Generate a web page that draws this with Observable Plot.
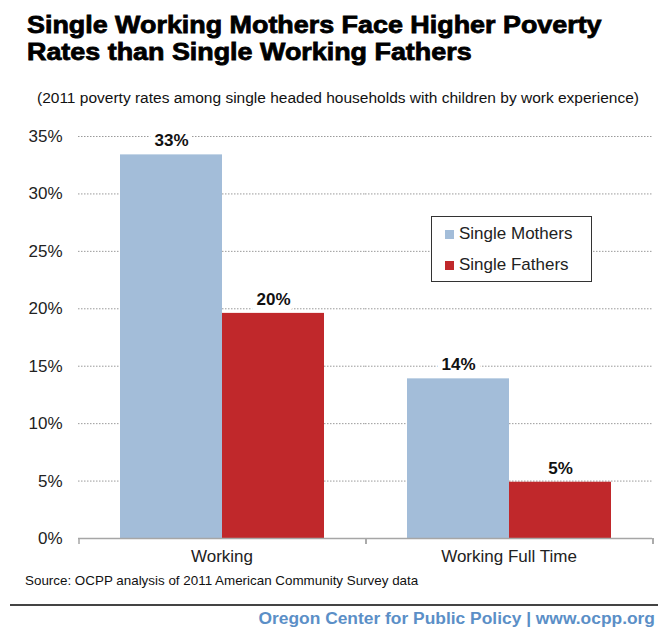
<!DOCTYPE html>
<html><head><meta charset="utf-8">
<script src="https://cdn.jsdelivr.net/npm/d3@7"></script>
<script src="https://cdn.jsdelivr.net/npm/@observablehq/plot@0.6"></script>
<style>
body{margin:0;background:#fff;width:658px;height:628px;position:relative;overflow:hidden;font-family:"Liberation Sans",Arial,sans-serif;}
#title{position:absolute;left:27px;top:11px;font-size:24px;font-weight:bold;line-height:27px;color:#000;transform:scaleX(1.12);transform-origin:0 0;-webkit-text-stroke:0.8px #000;white-space:nowrap;}
#subtitle{position:absolute;left:37px;top:89px;font-size:15.5px;color:#111;white-space:nowrap;}
#chart{position:absolute;left:0;top:118px;}
#legend{position:absolute;left:431px;top:216px;width:159px;height:64px;border:1.5px solid #333;background:#fff;font-size:17px;color:#222;}
#legend .item{position:absolute;left:13px;white-space:nowrap;}
#legend .sw{display:inline-block;width:9px;height:9px;margin-right:5px;}
#source{position:absolute;left:25px;top:573px;font-size:13.4px;color:#111;white-space:nowrap;}
#rule{position:absolute;left:10px;top:604px;width:648px;height:2px;background:#444;}
#footer{position:absolute;right:3px;top:610px;font-size:17.4px;line-height:17px;font-weight:bold;color:#5b8fc7;white-space:nowrap;}
</style></head>
<body>
<div id="title">Single Working Mothers Face Higher Poverty<br>Rates than Single Working Fathers</div>
<div id="subtitle">(2011 poverty rates among single headed households with children by work experience)</div>
<div id="chart"></div>
<div id="legend"></div>
<div id="source">Source: OCPP analysis of 2011 American Community Survey data</div>
<div id="rule"></div>
<div id="footer">Oregon Center for Public Policy | www.ocpp.org</div>
<script>
const categories = ["Working", "Working Full Time"];
const series = ["Single Mothers", "Single Fathers"];
const mothers = [33.4, 13.9];
const fathers = [19.6, 4.9];
const colors = ["#a3bdd9", "#c0282b"];
const yTicks = [0, 5, 10, 15, 20, 25, 30, 35];

const rows = [];
categories.forEach((c, i) => {
  rows.push({category: c, series: series[0], value: mothers[i]});
  rows.push({category: c, series: series[1], value: fathers[i]});
});

const boundaryTicks = (index, scales) => {
  const {fx, y} = scales;
  const bw = typeof fx.bandwidth === "function" ? fx.bandwidth() : fx.bandwidth;
  const edges = categories.map(c => fx(c)).concat([fx(categories[categories.length - 1]) + bw]);
  const y0 = y(0);
  const g = d3.create("svg:g").attr("stroke", "#a6a6a6").attr("stroke-width", 1.5);
  for (const e of edges) g.append("line").attr("x1", e).attr("x2", e).attr("y1", y0).attr("y2", y0 + 6);
  return g.node();
};

const chart = Plot.plot({
  width: 658, height: 456,
  marginTop: 18, marginBottom: 36, marginLeft: 77, marginRight: 6,
  style: {fontFamily: "Liberation Sans, Arial, sans-serif", fontSize: "17px", color: "#222", background: "transparent"},
  fx: {domain: categories, padding: 0, label: null, tickSize: 0, tickPadding: 11},
  x: {domain: series, paddingInner: 0, paddingOuter: 0.4, axis: null},
  y: {domain: [0, 35], ticks: yTicks, tickFormat: d => d + "%", tickSize: 0, tickPadding: 16, label: null},
  color: {domain: series, range: colors},
  marks: [
    Plot.ruleY(yTicks.filter(d => d > 0), {stroke: "#9a9a9a", strokeDasharray: "1.5,1.5", strokeWidth: 1}),
    Plot.barY(rows, {fx: "category", x: "series", y: "value", fill: "series"}),
    Plot.ruleY([0], {stroke: "#a6a6a6", strokeWidth: 1.5}),
    boundaryTicks,
    Plot.text(rows, {fx: "category", x: "series", y: "value", text: d => Math.round(d.value) + "%", dy: -14,
      fontWeight: "bold", fontSize: 17, fill: "#111", stroke: "white", strokeWidth: 10, paintOrder: "stroke", strokeLinejoin: "miter"})
  ]
});
document.getElementById("chart").appendChild(chart);

const legend = document.getElementById("legend");
series.forEach((s, i) => {
  const item = document.createElement("div");
  item.className = "item";
  item.style.top = (i === 0 ? 7 : 38) + "px";
  const sw = document.createElement("span");
  sw.className = "sw";
  sw.style.background = colors[i];
  item.appendChild(sw);
  item.appendChild(document.createTextNode(s));
  legend.appendChild(item);
});
</script>
</body></html>
